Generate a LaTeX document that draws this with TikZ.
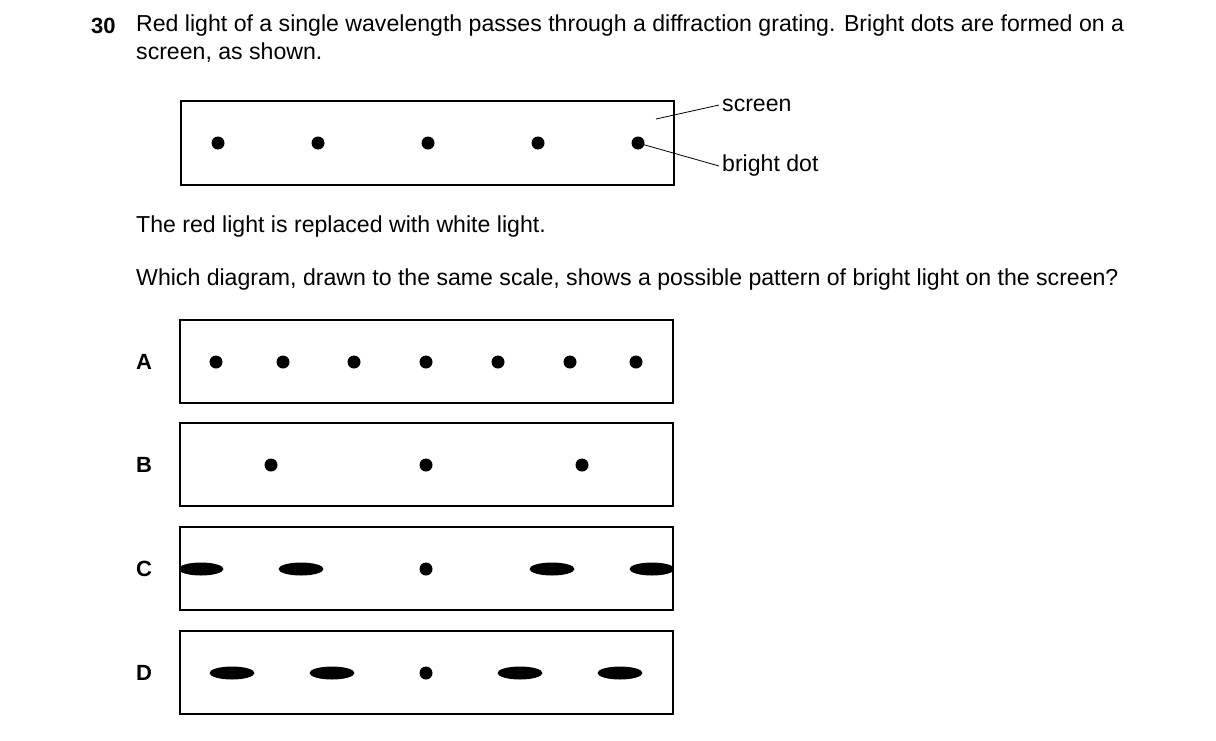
\documentclass[tikz,border=0pt]{standalone}
\usepackage{fontspec}
\usetikzlibrary{shapes.geometric}
\setmainfont{Liberation Sans}
\begin{document}
\begin{tikzpicture}[x=1pt,y=-1pt,
  box/.style={draw,line width=1.3pt},
  dot/.style={circle,fill=black,inner sep=0pt,minimum size=13pt},
  blob/.style={ellipse,fill=black,inner sep=0pt,minimum width=45pt,minimum height=13pt},
  txt/.style={anchor=west,inner sep=0pt,font=\fontsize{23.1}{27}\selectfont},
  lab/.style={inner sep=0pt,font=\fontsize{22}{24}\selectfont\bfseries}]
\useasboundingbox (0,0) rectangle (1216,740);
\node[lab,anchor=west] (n30) at (91,26) {30};
\node[txt] (t1) at (136,26) {Red light of a single wavelength passes through a diffraction grating. Bright dots are formed on a};
\node[txt] (t2) at (136,53) {screen, as shown.};
\draw[box] (181,101) rectangle (674,185);
\foreach \x [count=\i] in {218,318,428,538,638} \node[dot] (s\i) at (\x,143) {};
\node[txt,inner xsep=3pt] (scr) at (719,105) {screen};
\node[txt,inner xsep=3pt] (bd) at (719,166) {bright dot};
\coordinate (sp) at (656,119);
\draw[line width=0.8pt] (sp) -- (scr.west);
\draw[line width=0.8pt] (s5.center) -- (bd.west);
\node[txt] (t3) at (136,227) {The red light is replaced with white light.};
\node[txt] (t4) at (136,280) {Which diagram, drawn to the same scale, shows a possible pattern of bright light on the screen?};
\foreach \y/\L in {362/A,465/B,569/C,673/D}{
  \draw[box] (180,\y-42) rectangle (673,\y+41);
  \node[lab] (L\L) at (144,\y) {\L};
}
\foreach \x [count=\i] in {216,283,354,426,498,570,636} \node[dot] (a\i) at (\x,362) {};
\foreach \x [count=\i] in {271,426,582} \node[dot] (b\i) at (\x,465) {};
\begin{scope}
\clip (180,527) rectangle (673,611);
\node[blob] (c1) at (201,569) {};
\node[blob] (c2) at (301,569) {};
\node[dot] (c3) at (426,569) {};
\node[blob] (c4) at (552,569) {};
\node[blob] (c5) at (652,569) {};
\end{scope}
\draw[box] (180,527) rectangle (673,610);
\node[blob] (d1) at (232,673) {};
\node[blob] (d2) at (332,673) {};
\node[dot] (d3) at (426,673) {};
\node[blob] (d4) at (520,673) {};
\node[blob] (d5) at (620,673) {};
\end{tikzpicture}
\end{document}
